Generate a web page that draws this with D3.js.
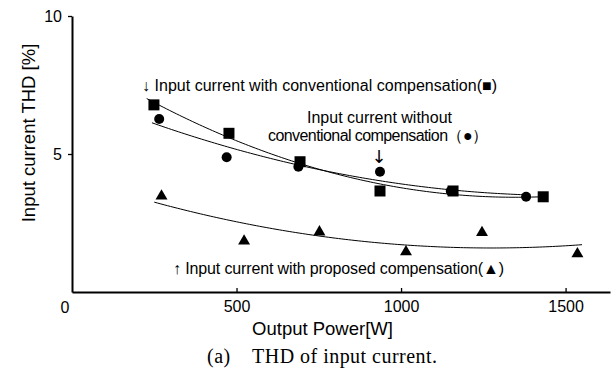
<!DOCTYPE html>
<html><head><meta charset="utf-8">
<script src="https://cdn.jsdelivr.net/npm/d3@7"></script>
<style>body{margin:0;background:#fff}svg{display:block}text{font-family:"Liberation Sans",Arial,sans-serif;fill:#000}</style>
</head><body><svg id="c" width="616" height="371"></svg>
<script>
// Data
const convX = [249, 477, 693, 936, 1158, 1432];
const convY = [6.78, 5.75, 4.72, 3.66, 3.66, 3.45];
const withoutX = [265, 470, 688, 936, 1151, 1380];
const withoutY = [6.27, 4.88, 4.54, 4.36, 3.66, 3.45];
const propX = [272, 523, 752, 1015, 1246, 1536];
const propY = [3.51, 1.88, 2.21, 1.49, 2.19, 1.42];
const xTicks = [500, 1000, 1500];
const yTicks = [5, 10];
const trendExtend = 22; // trendline forward/backward forecast [W]

const svg = d3.select("#c");
const x = d3.scaleLinear().domain([0, 1635]).range([72, 610]);
const y = d3.scaleLinear().domain([0, 10]).range([292, 16]);

// quadratic least-squares trendline
function polyfit(xs, ys, deg) {
  const n = deg + 1, s = 1000;
  const A = Array.from({length: n}, () => new Array(n + 1).fill(0));
  xs.forEach((xv, k) => {
    const t = xv / s;
    for (let i = 0; i < n; i++) {
      for (let j = 0; j < n; j++) A[i][j] += Math.pow(t, i + j);
      A[i][n] += ys[k] * Math.pow(t, i);
    }
  });
  for (let i = 0; i < n; i++) {
    let p = i;
    for (let r = i + 1; r < n; r++) if (Math.abs(A[r][i]) > Math.abs(A[p][i])) p = r;
    [A[i], A[p]] = [A[p], A[i]];
    for (let r = 0; r < n; r++) if (r !== i) {
      const f = A[r][i] / A[i][i];
      for (let c = i; c <= n; c++) A[r][c] -= f * A[i][c];
    }
  }
  const coef = A.map((row, i) => row[n] / row[i]);
  return v => coef.reduce((acc, c, i) => acc + c * Math.pow(v / s, i), 0);
}
const line = d3.line().x(d => x(d[0])).y(d => y(d[1]));
function trend(xs, ys) {
  const f = polyfit(xs, ys, 2);
  const lo = d3.min(xs) - trendExtend, hi = d3.max(xs) + trendExtend;
  const pts = d3.range(lo, hi + 1, 10).map(v => [v, f(v)]);
  svg.append("path").attr("d", line(pts)).attr("fill", "none").attr("stroke", "#000").attr("stroke-width", 1);
}
trend(convX, convY);
trend(withoutX, withoutY);
trend(propX, propY);

// axes
const xAxis = d3.axisBottom(x).tickValues(xTicks).tickFormat(d3.format("d")).tickSizeInner(-4).tickSizeOuter(0).tickPadding(9);
const gx = svg.append("g").attr("transform", "translate(0,292)").call(xAxis);
gx.select(".domain").attr("stroke-width", 2);
gx.selectAll(".tick line").attr("stroke-width", 1.3);
gx.selectAll("text").attr("font-size", 16);
const yAxis = d3.axisLeft(y).tickValues(yTicks).tickSizeInner(4).tickSizeOuter(0).tickPadding(6);
const gy = svg.append("g").attr("transform", "translate(72,0)").call(yAxis);
gy.select(".domain").attr("stroke-width", 2);
gy.selectAll(".tick line").attr("stroke-width", 1.3);
gy.selectAll("text").attr("font-size", 16);
svg.append("text").attr("x", 65).attr("y", 312.5).attr("text-anchor", "middle").attr("font-size", 16).text("0");

// markers
svg.append("g").selectAll("rect").data(convX).join("rect")
  .attr("x", (d, i) => x(d) - 5.5).attr("y", (d, i) => y(convY[i]) - 5.5)
  .attr("width", 11).attr("height", 11).attr("fill", "#000");
svg.append("g").selectAll("circle").data(withoutX).join("circle")
  .attr("cx", d => x(d)).attr("cy", (d, i) => y(withoutY[i])).attr("r", 5).attr("fill", "#000");
const tri = d3.symbol().type(d3.symbolTriangle).size(62);
svg.append("g").selectAll("path").data(propX).join("path")
  .attr("d", tri).attr("transform", (d, i) => `translate(${x(d)},${y(propY[i]) + 1})`).attr("fill", "#000");

// annotations
const ann = svg.append("g").attr("font-size", 16);
ann.append("text").attr("x", 142).attr("y", 91).attr("textLength", 355).attr("lengthAdjust", "spacing")
  .text("↓ Input current with conventional compensation(■)");
ann.append("text").attr("x", 307).attr("y", 123).attr("textLength", 145).attr("lengthAdjust", "spacing")
  .text("Input current without");
ann.append("text").attr("x", 268).attr("y", 141).attr("textLength", 220).attr("lengthAdjust", "spacing")
  .text("conventional compensation（●）");
ann.append("text").attr("x", 379).attr("y", 163).attr("text-anchor", "middle").attr("font-size", 18)
  .style("font-family", "'DejaVu Sans',sans-serif").text("↓");
ann.append("text").attr("x", 173).attr("y", 274).attr("textLength", 331).attr("lengthAdjust", "spacing")
  .text("↑ Input current with proposed compensation(▲)");

// axis titles
svg.append("text").attr("transform", "translate(35,133) rotate(-90)").attr("text-anchor", "middle")
  .attr("font-size", 18.5).text("Input current THD [%]");
svg.append("text").attr("x", 322.5).attr("y", 335).attr("text-anchor", "middle").attr("font-size", 18.5).text("Output Power[W]");
svg.append("text").attr("x", 207).attr("y", 363).attr("font-size", 20).attr("textLength", 230).attr("lengthAdjust", "spacing")
  .style("font-family", "'Liberation Serif','Times New Roman',serif").style("white-space", "pre")
  .text("(a)    THD of input current.");
</script></body></html>
